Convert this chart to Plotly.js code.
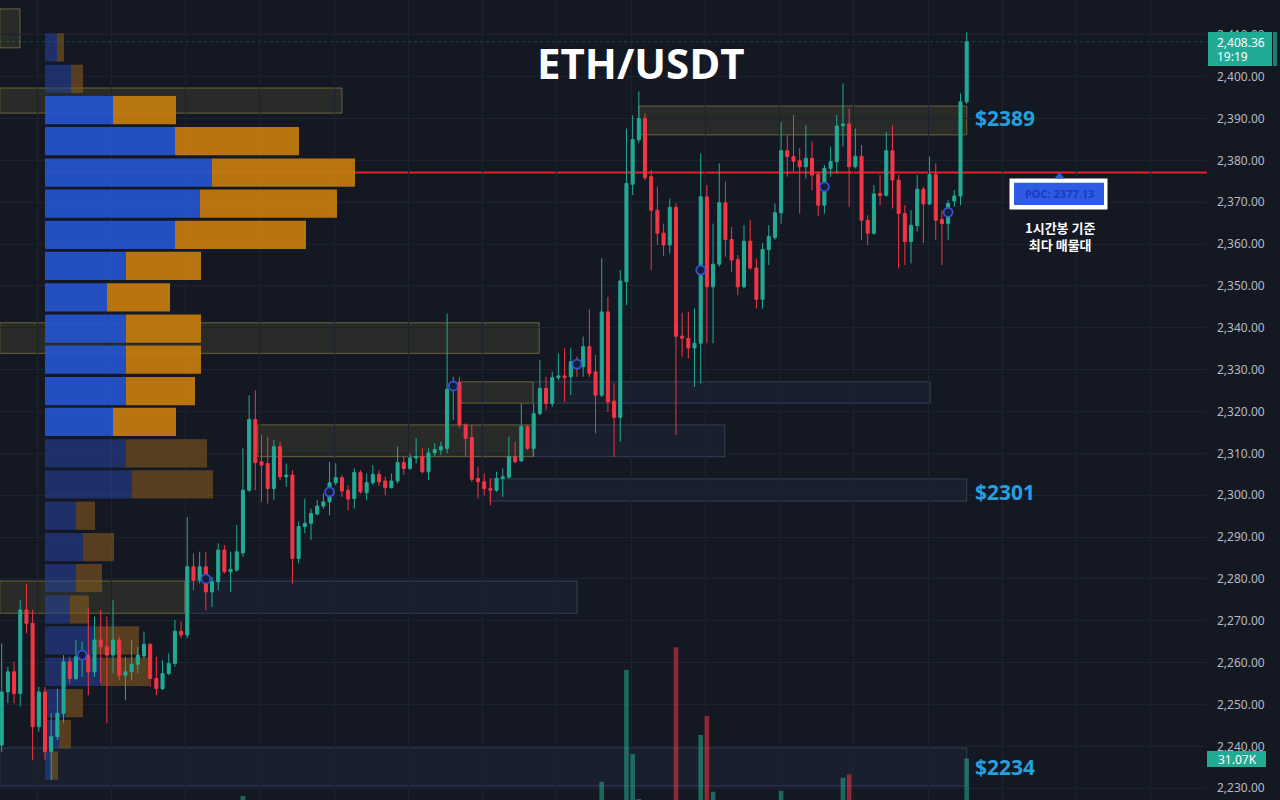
<!DOCTYPE html>
<html>
<head>
<meta charset="utf-8">
<script src="https://cdn.plot.ly/plotly-3.0.1.min.js"></script>
<style>
html,body{margin:0;padding:0;background:#141823;}
#chart{width:1280px;height:800px;}
</style>
</head>
<body>
<div id="chart"></div>
<script>
// ---------- DATA ----------
const openP = [
2240.3,2253.0,2257.8,2252.6,2272.6,2269.4,2244.7,2253.0,2238.7,2242.3,
2247.9,2260.2,2256.2,2261.4,2261.8,2257.8,2265.4,2263.8,2261.8,2265.4,
2257.0,2257.8,2259.6,2261.6,2264.4,2256.2,2253.8,2257.4,2259.8,2267.5,
2266.6,2282.9,2279.7,2282.9,2276.9,2279.3,2286.9,2281.7,2282.1,2286.2,
2301.2,2318.1,2308.0,2307.6,2301.6,2311.6,2304.4,2304.8,2284.9,2292.5,
2293.3,2295.5,2297.4,2298.4,2303.0,2304.2,2301.2,2299.2,2305.4,2300.6,
2303.0,2305.0,2303.4,2301.8,2303.4,2307.8,2306.4,2308.9,2309.3,2305.6,
2310.1,2310.8,2311.2,2325.5,2326.9,2316.8,2313.8,2304.0,2303.2,2301.6,
2301.2,2304.0,2304.3,2309.2,2308.2,2316.4,2311.2,2319.5,2325.5,2321.9,
2328.1,2328.5,2328.3,2331.6,2330.7,2335.5,2329.5,2323.9,2343.8,2322.5,
2318.6,2351.0,2374.3,2384.9,2390.0,2376.1,2368.1,2362.6,2359.8,2368.8,
2338.0,2337.5,2335.2,2336.3,2371.3,2349.8,2355.2,2369.9,2361.1,2356.3,
2349.8,2360.7,2354.3,2346.8,2358.7,2361.6,2367.5,2382.3,2380.9,2379.9,
2378.5,2380.5,2376.7,2369.3,2378.1,2379.7,2388.3,2388.7,2378.5,2381.0,
2365.7,2362.6,2372.1,2371.7,2382.3,2375.3,2367.3,2360.6,2364.4,2373.1,
2369.6,2376.6,2365.9,2364.9,2370.3,2371.5,2394.0
];
const closeP = [
2253.0,2257.8,2252.6,2272.6,2269.4,2244.7,2253.0,2238.7,2242.3,2247.9,
2260.2,2256.2,2261.4,2262.0,2257.8,2265.4,2263.8,2261.8,2265.4,2257.0,
2257.8,2259.6,2261.8,2264.4,2256.2,2253.8,2257.4,2259.8,2267.5,2266.6,
2282.9,2279.7,2282.9,2276.9,2279.3,2286.9,2281.7,2282.3,2286.5,2301.2,
2318.1,2307.8,2307.2,2301.6,2311.6,2304.4,2304.8,2284.9,2292.5,2293.3,
2295.6,2297.4,2298.4,2303.0,2304.2,2301.0,2299.1,2305.4,2300.8,2303.0,
2305.0,2303.2,2301.8,2303.4,2307.8,2306.4,2308.9,2309.2,2305.6,2310.1,
2310.9,2311.6,2325.3,2326.3,2316.8,2313.6,2303.8,2303.2,2301.6,2301.2,
2304.0,2304.4,2309.2,2308.0,2316.4,2311.2,2319.5,2325.5,2321.9,2328.1,
2328.5,2328.1,2331.9,2330.7,2335.5,2329.1,2323.9,2343.8,2322.3,2318.6,
2351.2,2374.5,2385.0,2390.0,2375.9,2368.1,2362.6,2359.8,2368.8,2338.0,
2337.5,2335.2,2336.3,2371.3,2349.8,2355.2,2369.9,2361.1,2356.2,2349.8,
2360.7,2354.3,2346.8,2358.7,2361.8,2367.5,2382.3,2380.9,2379.8,2378.5,
2380.5,2376.5,2369.3,2378.1,2379.7,2388.2,2388.7,2378.5,2381.0,2365.7,
2362.6,2372.0,2371.6,2382.3,2375.3,2367.3,2360.6,2364.5,2373.1,2369.6,
2376.6,2365.7,2364.9,2369.7,2371.5,2394.0,2408.36
];
const highP = [
2264.6,2259.0,2260.2,2274.9,2278.9,2272.6,2254.2,2254.2,2247.9,2253.8,
2261.8,2261.4,2265.4,2265.0,2273.0,2271.0,2272.6,2271.0,2274.9,2266.2,
2261.4,2265.4,2263.8,2267.4,2264.6,2261.4,2260.6,2262.2,2270.2,2269.8,
2294.8,2286.1,2286.5,2286.5,2280.5,2288.5,2288.1,2286.5,2292.9,2311.2,
2323.9,2325.1,2314.4,2314.0,2313.2,2312.8,2307.6,2306.0,2293.7,2299.2,
2296.8,2298.8,2300.4,2308.0,2307.6,2304.8,2302.4,2306.4,2306.0,2305.2,
2307.2,2306.0,2304.4,2305.2,2311.6,2309.2,2310.0,2313.6,2311.2,2311.2,
2312.4,2312.8,2343.4,2328.3,2328.3,2317.2,2316.8,2306.8,2305.2,2304.0,
2305.6,2306.4,2314.0,2312.8,2321.9,2316.8,2321.9,2332.3,2328.3,2329.5,
2333.9,2335.1,2335.1,2333.1,2337.9,2344.4,2333.5,2356.6,2347.4,2326.7,
2353.8,2387.6,2390.8,2396.5,2391.2,2377.7,2373.7,2364.9,2370.9,2369.7,
2343.6,2343.8,2344.6,2381.7,2374.1,2364.9,2379.3,2374.9,2364.1,2357.4,
2364.5,2365.7,2356.6,2360.2,2364.5,2369.7,2389.2,2386.0,2390.8,2382.9,
2388.4,2384.5,2377.3,2378.9,2383.3,2390.8,2398.4,2392.4,2387.6,2383.7,
2366.9,2374.1,2376.5,2386.8,2388.4,2376.5,2369.3,2368.1,2376.5,2373.7,
2380.9,2379.3,2368.1,2370.5,2372.9,2396.0,2410.6
];
const lowP = [
2238.7,2250.3,2250.3,2249.5,2267.0,2236.7,2243.5,2236.7,2231.9,2241.5,
2245.5,2255.0,2255.8,2256.6,2252.2,2256.6,2255.0,2245.5,2257.4,2255.8,
2251.0,2255.8,2257.4,2261.0,2254.2,2252.2,2253.4,2257.0,2259.0,2265.8,
2265.8,2277.3,2278.9,2272.5,2273.3,2277.3,2281.3,2276.9,2281.7,2285.3,
2300.8,2301.2,2298.4,2298.0,2298.8,2303.6,2302.0,2278.9,2283.7,2290.9,
2289.3,2295.2,2296.8,2295.2,2302.4,2299.6,2296.4,2296.8,2300.4,2298.8,
2302.4,2302.2,2300.0,2301.6,2302.8,2304.8,2306.0,2307.6,2305.2,2303.6,
2309.3,2309.6,2310.0,2317.9,2316.0,2309.2,2303.2,2299.2,2300.0,2297.6,
2300.8,2299.6,2304.0,2307.6,2308.0,2310.8,2309.2,2319.1,2320.3,2321.1,
2327.5,2322.3,2323.9,2328.3,2328.3,2328.3,2314.8,2323.5,2319.9,2309.2,
2312.8,2345.4,2371.7,2384.1,2375.3,2353.8,2359.8,2357.1,2357.8,2314.4,
2333.1,2332.7,2325.9,2326.7,2336.3,2336.3,2354.6,2357.0,2353.4,2347.8,
2349.4,2353.8,2344.6,2344.6,2355.0,2361.0,2364.9,2376.1,2377.3,2367.3,
2375.7,2372.9,2366.7,2367.3,2376.1,2376.9,2383.3,2368.9,2378.1,2361.0,
2359.8,2362.2,2369.3,2371.3,2368.5,2354.2,2355.0,2355.4,2363.0,2360.2,
2369.3,2361.0,2355.0,2361.0,2368.9,2369.3,2393.5
];

// signal circles (bar index, price)
const signalIdx   = [13, 33, 53, 73, 93, 113, 133, 153];
const signalPrice = [2261.8, 2280.0, 2300.8, 2326.1, 2331.3, 2353.8, 2373.7, 2367.6];

// visible volume bars (bar index, volume)
const volIdx = [39, 97, 101, 102, 103, 109, 113, 114, 115, 126, 136, 137, 156];
const volVal = [16550, 22090, 65310, 32800, 15400, 74100, 40160, 47510, 18210, 18600, 23630, 24950, 31070];

// volume profile rows (price level, buy volume, sell volume)
const profilePrice = [2407.0,2399.5,2392.0,2384.6,2377.1,2369.7,2362.2,2354.8,2347.3,2339.8,2332.4,2324.9,
                      2317.5,2310.0,2302.6,2295.1,2287.6,2280.2,2272.7,2265.3,2257.8,2250.3,2242.9,2235.4];
const profileBuy  = [12,26,68,130,167,155,130,81,62,81,81,81,68,81,87,31,38,31,25,50,56,21,14,6];
const profileSell = [7,12,63,124,143,137,131,75,63,75,75,69,63,81,81,19,31,26,19,44,48,17,12,7];
const valueAreaHigh = 2392.0, valueAreaLow = 2317.5;
const pocPrice = 2377.13;
const lastPrice = 2408.36;
const lastVolume = '31.07K';
const countdown = '19:19';

// zones: start bar, end bar, top, bottom, kind
const zoneStart  = [-0.3, -0.3, -0.3, 41.4, 85.9, 73.8, 85.9, 78.9, -0.3, 29.6, 103.0, -0.3];
const zoneEnd    = [2.96, 55.0, 86.9, 85.9, 116.9, 85.9, 150.1, 156.0, 29.6, 93.0, 156.0, 156.0];
const zoneTop    = [2416.2, 2397.3, 2341.2, 2316.8, 2316.8, 2327.1, 2327.1, 2303.9, 2279.5, 2279.5, 2393.0, 2239.6];
const zoneBottom = [2406.9, 2391.3, 2333.9, 2309.2, 2309.2, 2322.0, 2322.0, 2298.6, 2271.8, 2271.8, 2386.1, 2230.5];
const zoneKind   = ['supply','supply','supply','supply','demand','supply','demand','demand','supply','demand','supply','demand'];

const levelLabels = ['$2389', '$2301', '$2234'];
const levelPrices = [2390.1, 2300.8, 2235.0];

const titleText = 'ETH/USDT';
const noteText = '1시간봉 기준<br>최다 매물대';

// ---------- STYLE / LAYOUT ----------
const BG = '#141823';
const UP = '#22ab94', DOWN = '#f23645';
const plotW = 1207, plotH = 800;
const pxX = x => x / plotW;
const pxY = y => 1 - y / plotH;
// candle index -> profile-axis (pixel) units, for drawing zones on the main subplot
const barPx = 6.186, bar0 = 1.7;
const idx2x = i => bar0 + barPx * i - 45;

const idx = openP.map((_, i) => i);
const gridVals = [];
for (let g = 5.75; g < 195; g += 12) gridVals.push(g);

const inVA = profilePrice.map(p => p <= valueAreaHigh + 0.01 && p >= valueAreaLow - 0.01);
const buyColors  = inVA.map(v => v ? 'rgba(38,84,206,0.93)' : 'rgba(38,70,160,0.55)');
const sellColors = inVA.map(v => v ? 'rgba(196,124,16,0.93)' : 'rgba(140,95,30,0.55)');

const traces = [
  { type:'bar', orientation:'h', xaxis:'x', yaxis:'y', y: profilePrice, x: profileBuy, base: 0,
    width: 6.75, marker:{color: buyColors, line:{width:0}}, hoverinfo:'skip', showlegend:false },
  { type:'bar', orientation:'h', xaxis:'x', yaxis:'y', y: profilePrice, x: profileSell, base: profileBuy,
    width: 6.75, marker:{color: sellColors, line:{width:0}}, hoverinfo:'skip', showlegend:false },
  { type:'candlestick', xaxis:'x2', yaxis:'y', x: idx, open: openP, high: highP, low: lowP, close: closeP,
    increasing:{line:{color:UP, width:1}, fillcolor:UP},
    decreasing:{line:{color:DOWN, width:1}, fillcolor:DOWN},
    whiskerwidth: 0, hoverinfo:'skip', showlegend:false },
  { type:'scatter', mode:'markers', xaxis:'x2', yaxis:'y', x: signalIdx, y: signalPrice,
    marker:{symbol:'circle', size:9, color:'#161c3c', line:{color:'#3453d6', width:1.8}},
    hoverinfo:'skip', showlegend:false },
  { type:'bar', xaxis:'x2', yaxis:'y2', x: volIdx, y: volVal, width: 0.75,
    marker:{color: volIdx.map(i => closeP[i] >= openP[i] ? 'rgba(34,171,148,0.55)' : 'rgba(242,54,69,0.55)')},
    hoverinfo:'skip', showlegend:false }
];

const shapes = [];
zoneStart.forEach((s, k) => {
  const sup = zoneKind[k] === 'supply';
  shapes.push({ type:'rect', xref:'x', yref:'y', x0:idx2x(s), x1:idx2x(zoneEnd[k]), y0:zoneBottom[k], y1:zoneTop[k],
    layer:'below',
    fillcolor: sup ? 'rgba(105,105,55,0.24)' : 'rgba(70,88,120,0.13)',
    line:{color: sup ? 'rgba(135,130,70,0.7)' : 'rgba(80,98,130,0.5)', width:1} });
});
// current price dotted line
shapes.push({ type:'line', xref:'paper', yref:'y', x0:0, x1:1, y0:lastPrice, y1:lastPrice, layer:'below',
  line:{color:'rgba(34,171,148,0.35)', width:1, dash:'dot'} });
// POC line
shapes.push({ type:'line', xref:'x', yref:'y', x0:0, x1:1162, y0:pocPrice, y1:pocPrice, layer:'below',
  line:{color:'#e3202a', width:2} });
// POC label box
shapes.push({ type:'rect', xref:'paper', yref:'paper', x0:pxX(1009.5), x1:pxX(1107.5), y0:pxY(209.5), y1:pxY(178.5),
  fillcolor:'#ffffff', line:{width:0}, layer:'above' });
shapes.push({ type:'rect', xref:'paper', yref:'paper', x0:pxX(1014), x1:pxX(1104), y0:pxY(205), y1:pxY(182.7),
  fillcolor:'#2d5be3', line:{width:0}, layer:'above' });
shapes.push({ type:'path', xref:'paper', yref:'paper',
  path:`M ${pxX(1054.5)} ${pxY(178.5)} L ${pxX(1059.5)} ${pxY(172)} L ${pxX(1064.5)} ${pxY(178.5)} Z`,
  fillcolor:'#2d5be3', line:{width:0}, layer:'above' });
// price label on axis
shapes.push({ type:'rect', xref:'paper', yref:'paper', x0:pxX(1208), x1:pxX(1272), y0:pxY(66), y1:pxY(32),
  fillcolor:UP, line:{width:0}, layer:'above' });
shapes.push({ type:'rect', xref:'paper', yref:'paper', x0:pxX(1273), x1:pxX(1277), y0:pxY(66), y1:pxY(32),
  fillcolor:'#1b7e6e', line:{width:0}, layer:'above' });
// volume label on axis
shapes.push({ type:'rect', xref:'paper', yref:'paper', x0:pxX(1207), x1:pxX(1266), y0:pxY(767), y1:pxY(751),
  fillcolor:UP, line:{width:0}, layer:'above' });

const annotations = [
  { text: titleText, xref:'paper', yref:'paper', x:pxX(641), y:pxY(63), xanchor:'center', yanchor:'middle',
    showarrow:false, font:{family:'Open Sans', size:42, color:'#ffffff', weight:700} },
  { text: 'POC: ' + pocPrice.toFixed(2), xref:'paper', yref:'paper', x:pxX(1059), y:pxY(194), xanchor:'center', yanchor:'middle',
    showarrow:false, font:{family:'Noto Sans', size:11, color:'#1a3cbf', weight:700} },
  { text: noteText, xref:'paper', yref:'paper', x:pxX(1060), y:pxY(235.5), xanchor:'center', yanchor:'middle',
    showarrow:false, font:{family:'Noto Sans CJK KR', size:13, color:'#ffffff', weight:700} },
  { text: lastPrice.toLocaleString('en-US',{minimumFractionDigits:2}), xref:'paper', yref:'paper', x:pxX(1215), y:pxY(42.5),
    xanchor:'left', yanchor:'middle', showarrow:false, font:{family:'Noto Sans', size:12, color:'#ffffff'} },
  { text: countdown, xref:'paper', yref:'paper', x:pxX(1215), y:pxY(56.5),
    xanchor:'left', yanchor:'middle', showarrow:false, font:{family:'Noto Sans', size:12, color:'#ffffff'} },
  { text: lastVolume, xref:'paper', yref:'paper', x:pxX(1237), y:pxY(759),
    xanchor:'center', yanchor:'middle', showarrow:false, font:{family:'Noto Sans', size:12, color:'#ffffff'} }
];
levelLabels.forEach((t, k) => {
  annotations.push({ text: t, xref:'x2', yref:'y', x:157.0, y:levelPrices[k], xanchor:'left', yanchor:'middle',
    showarrow:false, font:{family:'Open Sans', size:21, color:'#23a0de', weight:700} });
});

const layout = {
  width:1280, height:800,
  margin:{l:0, r:73, t:0, b:0, pad:0},
  paper_bgcolor: BG, plot_bgcolor: BG,
  showlegend:false, hovermode:false, barmode:'overlay',
  xaxis:{ domain:[0,1], range:[-45, 1162], visible:false, fixedrange:true, anchor:'y' },
  xaxis2:{ overlaying:'x', anchor:'y', range:[-0.275, 194.85], showticklabels:false, ticks:'',
    tickmode:'array', tickvals: gridVals, showgrid:true, gridcolor:'#1d2230', gridwidth:1,
    zeroline:false, showline:false, rangeslider:{visible:false}, fixedrange:true },
  yaxis:{ side:'right', anchor:'x', range:[2227.17, 2418.33], tickmode:'linear', tick0:2200, dtick:10,
    tickformat:',.2f', showgrid:true, gridcolor:'#1d2230', gridwidth:1, zeroline:false, showline:false,
    ticks:'', ticklabelstandoff:9, tickfont:{family:'Noto Sans', size:12, color:'#b6b9c2'}, fixedrange:true },
  yaxis2:{ overlaying:'y', anchor:'x2', range:[15000, 324760], visible:false, fixedrange:true },
  shapes, annotations
};

Plotly.newPlot('chart', traces, layout, {staticPlot:true, displayModeBar:false});
</script>
</body>
</html>
